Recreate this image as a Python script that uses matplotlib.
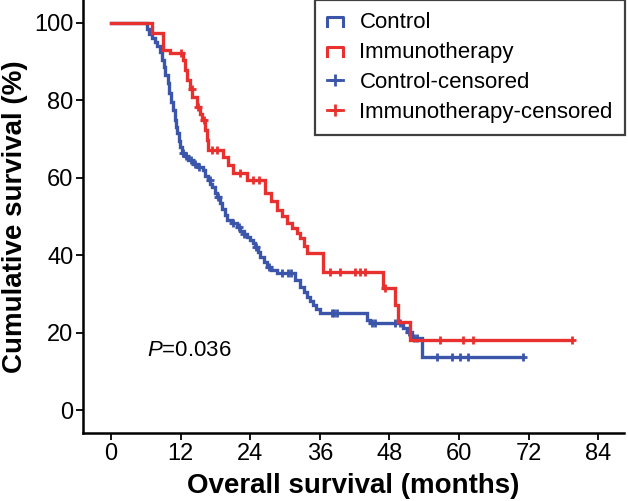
import numpy as np
import matplotlib
matplotlib.use('Agg')
import matplotlib.pyplot as plt
from matplotlib.lines import Line2D
from matplotlib.legend_handler import HandlerBase

plt.rcParams['font.family'] = ['Liberation Sans', 'DejaVu Sans']
plt.rcParams['mathtext.fontset'] = 'custom'
plt.rcParams['mathtext.it'] = 'Liberation Sans:italic'
plt.rcParams['mathtext.rm'] = 'Liberation Sans'

# Kaplan-Meier steps (months, survival %)
control_t = [0, 6.2, 6.6, 7.1, 7.6, 8.0, 8.4, 8.8, 9.1, 9.4, 9.8, 10.1, 10.4, 10.7, 11.0,
             11.2, 11.4, 11.7, 11.9, 12.3, 12.8, 13.3, 14.1, 15.0, 15.9, 16.3, 16.7, 17.1,
             17.4, 17.9, 18.3, 18.8, 19.2, 19.6, 20.0, 20.8, 21.7, 22.3, 22.9, 23.4, 24.0,
             24.5, 24.9, 25.3, 25.7, 26.3, 26.9, 27.6, 28.6, 31.8, 32.6, 33.2, 33.8, 34.3,
             34.8, 35.4, 36.0, 44.1, 44.7, 50.3, 51.0, 51.9, 53.6]
control_s = [100, 98.5, 97.0, 96.0, 95.0, 94.0, 92.5, 90.5, 88.5, 86.5, 84.5, 82.0, 79.5, 77.5, 75.0,
             73.0, 71.5, 69.5, 68.0, 66.5, 65.5, 64.5, 63.5, 62.8, 62.0, 60.5, 59.4, 58.5,
             57.6, 56.1, 55.0, 53.5, 52.0, 50.5, 49.1, 48.2, 47.3, 46.3, 45.5, 44.7, 43.9,
             43.2, 42.0, 40.8, 39.5, 38.3, 37.0, 36.2, 35.4, 33.5, 31.8, 30.5, 29.2, 28.1,
             27.1, 26.1, 25.1, 23.3, 22.5, 21.2, 20.2, 18.6, 13.7]
control_end = 71.0
control_cens = [12.5, 13.0, 13.8, 14.5, 15.2, 17.0, 18.5, 21.0, 22.0, 23.0, 25.0, 27.2,
                29.5, 30.5, 31.0, 38.1, 38.5, 39.0, 45.0, 45.5, 49.0, 49.8, 51.4, 52.3,
                52.8, 56.2, 58.8, 60.2, 61.6, 71.0]

immuno_t = [0, 7.1, 9.0, 10.2, 12.4, 12.8, 13.1, 13.6, 14.0, 14.8, 15.3, 15.7, 16.2, 16.5,
            16.7, 19.3, 20.1, 21.0, 23.4, 26.6, 27.6, 28.6, 29.4, 30.3, 31.2, 32.1, 32.6,
            33.2, 33.8, 36.6, 46.9, 49.0, 49.5, 51.6]
immuno_s = [100, 97.4, 93.0, 92.2, 90.4, 87.8, 85.3, 83.0, 80.9, 78.3, 76.5, 74.9, 72.4, 69.8,
            67.2, 65.4, 63.3, 61.2, 59.4, 56.1, 53.9, 51.7, 50.0, 48.3, 47.0, 45.7, 44.4,
            42.5, 40.6, 35.7, 31.5, 27.1, 22.7, 18.1]
immuno_end = 79.5
immuno_cens = [12.0, 13.9, 15.0, 16.0, 17.5, 18.2, 22.2, 24.5, 25.5, 37.8, 39.5, 42.1,
               42.9, 43.8, 47.2, 56.7, 60.7, 62.4, 79.5]

blue = '#3a55aa'
red = '#e8312f'


def surv_at(times, surv, t):
    idx = np.searchsorted(times, t, side='right') - 1
    return np.array(surv)[idx]


class StepHandler(HandlerBase):
    def create_artists(self, legend, orig_handle, xdescent, ydescent, width, height, fontsize, trans):
        x = np.array([0, 0, width, width]) - xdescent
        y = np.array([0.15, 0.7, 0.7, 0.15]) * height - ydescent
        ln = Line2D(x, y, color=orig_handle.get_color(), lw=2.2, transform=trans)
        return [ln]


fig = plt.figure(figsize=(6.28, 5.01), dpi=100)
ax = fig.add_axes([83 / 628, 1 - 433 / 501, (624 - 83) / 628, 433 / 501])

for t, s, end, cens, col in [(control_t, control_s, control_end, control_cens, blue),
                             (immuno_t, immuno_s, immuno_end, immuno_cens, red)]:
    tt = list(t) + [end]
    ss = list(s) + [s[-1]]
    ax.step(tt, ss, where='post', color=col, lw=2.4, solid_joinstyle='miter')
    cy = surv_at(t, s, np.array(cens))
    ax.plot(cens, cy, ls='none', marker='+', ms=6, mew=2, color=col)

ax.set_xlim(-4.8, 88.4)
ax.set_ylim(-5.9, 105.9)
ax.set_xticks(range(0, 85, 12))
ax.set_yticks(range(0, 101, 20))
ax.spines['top'].set_visible(False)
ax.spines['right'].set_visible(False)
for sp in ['left', 'bottom']:
    ax.spines[sp].set_linewidth(1.8)
ax.tick_params(direction='out', length=5, width=1.3, labelsize=17, pad=2)
ax.set_xlabel('Overall survival (months)', fontsize=20, fontweight='bold', labelpad=6)
ax.set_ylabel('Cumulative survival (%)', fontsize=20, fontweight='bold', labelpad=4)

ax.text(6.3, 15.5, r'$\mathit{P}$=0.036', fontsize=16, va='center', ha='left')

h_ctrl = Line2D([], [], color=blue)
h_imm = Line2D([], [], color=red)
h_cc = Line2D([], [], color=blue, lw=2, marker='+', ms=8, mew=2)
h_ic = Line2D([], [], color=red, lw=2, marker='+', ms=8, mew=2)
leg = fig.legend([h_ctrl, h_imm, h_cc, h_ic],
                 ['Control', 'Immunotherapy', 'Control-censored', 'Immunotherapy-censored'],
                 loc='upper right', bbox_to_anchor=(625 / 628, 1.0), borderaxespad=0,
                 fontsize=16, handlelength=0.7, handletextpad=0.75, labelspacing=0.4,
                 borderpad=0.55, fancybox=False, framealpha=1,
                 handler_map={h_ctrl: StepHandler(), h_imm: StepHandler()})
leg.get_frame().set_edgecolor('#404040')
leg.get_frame().set_linewidth(1.6)

fig.savefig('out.png', dpi=100)
